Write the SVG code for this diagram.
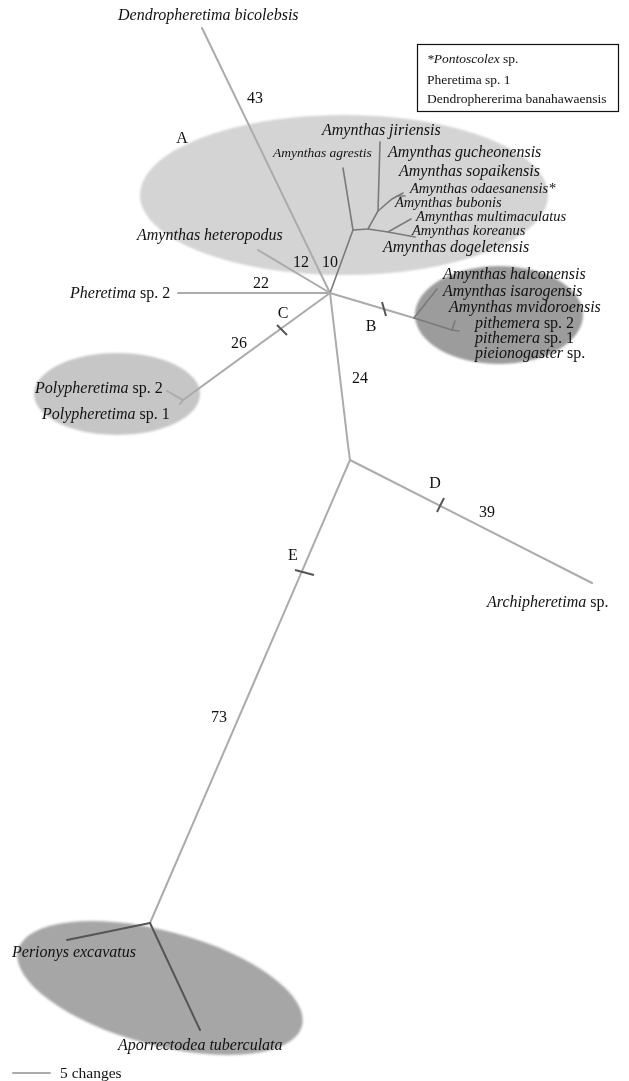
<svg xmlns="http://www.w3.org/2000/svg" width="629" height="1081" viewBox="0 0 629 1081">
<defs>
<filter id="soft" x="-10%" y="-10%" width="120%" height="120%"><feGaussianBlur stdDeviation="1.2"/></filter>
<style>
text{font-family:"Liberation Serif","Times New Roman",serif;fill:#111;}
.sp{font-size:16px;font-style:italic;}
.tight{font-size:14.5px;}
.up{font-style:normal;}
.sm{font-size:13.5px;font-style:italic;}
.num{font-size:16px;text-anchor:middle;}
.lg{font-size:13.5px;}
.br{stroke:#ababab;stroke-width:2;fill:none;stroke-linecap:round;}
.dk{stroke:#7a7a7a;stroke-width:1.6;fill:none;stroke-linecap:round;}
.bt{stroke:#555;stroke-width:2;fill:none;stroke-linecap:round;}
.tk{stroke:#555;stroke-width:2;fill:none;}
</style>
</defs>
<rect width="629" height="1081" fill="#fff"/>
<g id="clusters" filter="url(#soft)">
<ellipse id="cladeA" cx="344" cy="195" rx="204" ry="80" fill="#d4d4d4"/>
<ellipse id="cladeB" cx="499" cy="315" rx="84" ry="49" fill="#9c9c9c"/>
<ellipse id="cladeC" cx="117" cy="394" rx="83" ry="41" fill="#c6c6c6"/>
<ellipse id="cladeBottom" cx="160" cy="988" rx="147" ry="57" fill="#a6a6a6" transform="rotate(15 160 988)"/>
</g>
<g id="connectors">
<path class="br" d="M202,28 L330,293"/>
<path class="br" d="M258,250 L330,293"/>
<path class="br" d="M178,293 L330,293"/>
<path class="dk" d="M330,293 L353,230 L343,168"/>
<path class="dk" d="M353,230 L368,229 L378,211 L380,142"/>
<path class="dk" d="M378,211 L392,199 L403,193"/>
<path class="dk" d="M397,196 L405,196"/>
<path class="dk" d="M368,229 L388,232 L411,219"/>
<path class="dk" d="M388,232 L415,237"/>
<path class="br" d="M330,293 L414,318"/>
<path class="dk" d="M414,318 L437,289"/>
<path class="dk" d="M414,318 L452,330 L455,321"/>
<path class="dk" d="M452,330 L459,331"/>
<path class="br" d="M330,293 L183,400 L167,391"/>
<path class="br" d="M183,400 L180,404"/>
<path class="br" d="M330,293 L348,445 L350,460"/>
<path class="br" d="M350,460 L592,583"/>
<path class="br" d="M350,460 L150,923"/>
<path class="bt" d="M150,923 L67,940"/>
<path class="bt" d="M150,923 L200,1030"/>
<path class="tk" d="M382,302 L386,316"/>
<path class="tk" d="M277,325 L287,335"/>
<path class="tk" d="M444,498 L437,512"/>
<path class="tk" d="M295,570 L314,575"/>
<path class="br" d="M13,1073 L50,1073"/>
</g>
<g id="legend">
<rect x="417.5" y="44.5" width="201" height="67" fill="#fff" stroke="#111" stroke-width="1.2"/>
<text class="lg" x="427" y="63"><tspan font-style="italic">*Pontoscolex</tspan> sp.</text>
<text class="lg" x="427" y="84">Pheretima sp. 1</text>
<text class="lg" x="427" y="103">Dendrophererima banahawaensis</text>
</g>
<g id="labels">
<text class="sp" x="118" y="20">Dendropheretima bicolebsis</text>
<text class="num" x="255" y="103">43</text>
<text class="num" x="182" y="143">A</text>
<text class="sp" x="322" y="135">Amynthas jiriensis</text>
<text class="sm" x="273" y="157">Amynthas agrestis</text>
<text class="sp" x="388" y="157">Amynthas gucheonensis</text>
<text class="sp" x="399" y="176">Amynthas sopaikensis</text>
<text class="sp tight" x="410" y="193">Amynthas odaesanensis*</text>
<text class="sp tight" x="395" y="207">Amynthas bubonis</text>
<text class="sp tight" x="416" y="221">Amynthas multimaculatus</text>
<text class="sp tight" x="412" y="235">Amynthas koreanus</text>
<text class="sp" x="383" y="252">Amynthas dogeletensis</text>
<text class="sp" x="137" y="240">Amynthas heteropodus</text>
<text class="num" x="301" y="267">12</text>
<text class="num" x="330" y="267">10</text>
<text class="num" x="261" y="288">22</text>
<text class="sp" x="70" y="298">Pheretima<tspan class="up"> sp. 2</tspan></text>
<text class="sp" x="443" y="279">Amynthas halconensis</text>
<text class="sp" x="443" y="296">Amynthas isarogensis</text>
<text class="sp" x="449" y="312">Amynthas mvidoroensis</text>
<text class="sp" x="475" y="328">pithemera<tspan class="up"> sp. 2</tspan></text>
<text class="sp" x="475" y="343">pithemera<tspan class="up"> sp. 1</tspan></text>
<text class="sp" x="475" y="358">pieionogaster<tspan class="up"> sp.</tspan></text>
<text class="num" x="371" y="331">B</text>
<text class="num" x="283" y="318">C</text>
<text class="num" x="239" y="348">26</text>
<text class="sp" x="35" y="393">Polypheretima<tspan class="up"> sp. 2</tspan></text>
<text class="sp" x="42" y="419">Polypheretima<tspan class="up"> sp. 1</tspan></text>
<text class="num" x="360" y="383">24</text>
<text class="num" x="435" y="488">D</text>
<text class="num" x="487" y="517">39</text>
<text class="sp" x="487" y="607">Archipheretima<tspan class="up"> sp.</tspan></text>
<text class="num" x="293" y="560">E</text>
<text class="num" x="219" y="722">73</text>
<text class="sp" x="12" y="957">Perionys excavatus</text>
<text class="sp" x="118" y="1050">Aporrectodea tuberculata</text>
<text x="60" y="1078" font-size="15.5">5 changes</text>
</g>
</svg>
